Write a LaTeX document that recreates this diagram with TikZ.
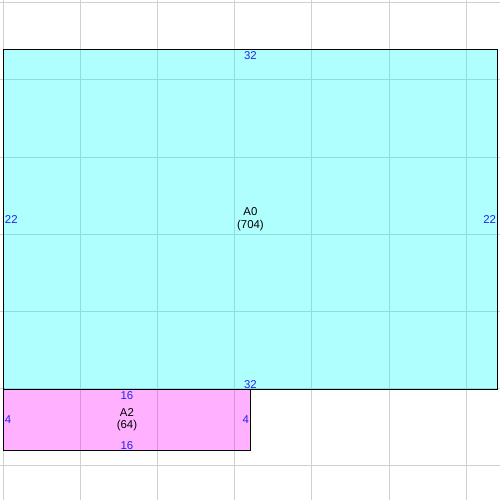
\documentclass[tikz,border=0pt]{standalone}
\usepackage{fontspec}
\setmainfont{Liberation Sans}
\definecolor{gridgray}{RGB}{208,208,208}
\definecolor{sizeblue}{RGB}{35,35,235}
\definecolor{areacyan}{RGB}{0,255,255}
\definecolor{areapink}{RGB}{255,0,255}
\begin{document}
\begin{tikzpicture}[x=0.5cm,y=0.5cm,font=\fontsize{10.5}{11.5}\selectfont,
    area/.style={draw=black,line width=0.8pt,fill opacity=0.31,text opacity=1,
                 inner sep=0pt,align=center,anchor=north west},
    dim/.style={text=sizeblue,inner sep=1.6pt}]
    \useasboundingbox (-0.194,3.17) rectangle (32.19,-29.21);

    % grid
    \foreach \x in {0,5,...,30}
        \draw[gridgray,line width=0.7pt] (\x,3.17) -- (\x,-29.21);
    \foreach \y in {3,-2,...,-27}
        \draw[gridgray,line width=0.7pt] (-0.194,\y) -- (32.19,\y);

    % areas
    \node[area,fill=areacyan,minimum width=16cm,minimum height=11cm] (A0) at (0,0) {A0\\(704)};
    \node[area,fill=areapink,minimum width=8cm,minimum height=2cm] (A2) at (0,-22) {A2\\(64)};

    % sizes
    \node[dim,anchor=north,inner ysep=2.4pt] (a0n) at (A0.north) {32};
    \node[dim,anchor=south,inner ysep=0.8pt] (a0s) at (A0.south) {32};
    \node[dim,anchor=west] (a0w) at (A0.west) {22};
    \node[dim,anchor=east] (a0e) at (A0.east) {22};
    \node[dim,anchor=north,inner ysep=2.4pt] (a2n) at (A2.north) {16};
    \node[dim,anchor=south,inner ysep=1.6pt] (a2s) at (A2.south) {16};
    \node[dim,anchor=west] (a2w) at (A2.west) {4};
    \node[dim,anchor=east] (a2e) at (A2.east) {4};
\end{tikzpicture}
\end{document}
